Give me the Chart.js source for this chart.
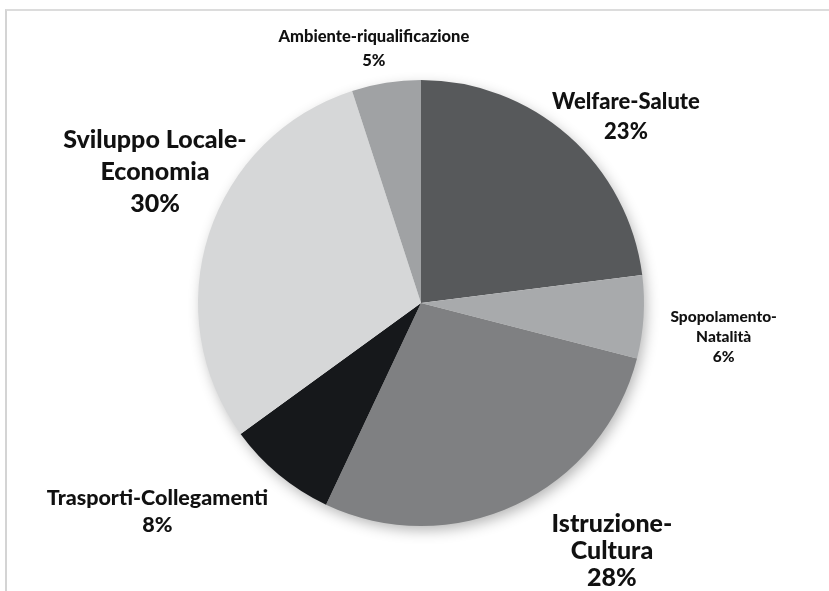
<!DOCTYPE html>
<html>
<head>
<meta charset="utf-8">
<script src="https://cdn.jsdelivr.net/npm/chart.js@4/dist/chart.umd.min.js"></script>
<style>
  html, body { margin: 0; padding: 0; background: #fff; }
  #wrap { position: relative; width: 829px; height: 591px; overflow: hidden; }
  #frame { position: absolute; left: 5px; top: 9px; right: -4px; bottom: -4px;
           border-left: 2px solid #d4d4d4; border-top: 2px solid #dcdcdc; }
  canvas { position: absolute; left: 0; top: 0; }
</style>
</head>
<body>
<div id="wrap">
  <div id="frame"></div>
  <canvas id="c" width="829" height="591"></canvas>
</div>
<script>
// Ambiti di intervento, quota percentuale
const categories = [
  'Welfare-Salute',
  'Spopolamento-Natalità',
  'Istruzione-Cultura',
  'Trasporti-Collegamenti',
  'Sviluppo Locale-Economia',
  'Ambiente-riqualificazione'
];
const shares = [23, 6, 28, 8, 30, 5];
const sliceColors = ['#57595b', '#a8aaac', '#7f8082', '#16181b', '#d6d7d8', '#a0a2a4'];

// How each label is broken into lines, and its type size / placement
const labelLines = [
  ['Welfare-Salute'],
  ['Spopolamento-', 'Natalità'],
  ['Istruzione-', 'Cultura'],
  ['Trasporti-Collegamenti'],
  ['Sviluppo Locale-', 'Economia'],
  ['Ambiente-riqualificazione']
];
const labelStyle = [
  { size: 22,   lh: 30, k: 1.20, dx: 28,    dy: 15 },
  { size: 15.5, lh: 20, k: 1.36, dx: 0,     dy: 15 },
  { size: 25,   lh: 27, k: 1.20, dx: 77,    dy: 6 },
  { size: 21.5, lh: 27, k: 1.20, dx: -93,   dy: 2 },
  { size: 25,   lh: 32, k: 1.20, dx: -11.5, dy: -48 },
  { size: 16.5, lh: 24, k: 1.15, dx: -7,    dy: -1 }
];

// Soft drop shadow under the pie
const pieShadow = {
  id: 'pieShadow',
  beforeDatasetsDraw(chart) {
    const arc = chart.getDatasetMeta(0).data[0];
    if (!arc) return;
    const ctx = chart.ctx;
    ctx.save();
    ctx.shadowColor = 'rgba(0,0,0,0.3)';
    ctx.shadowBlur = 14;
    ctx.shadowOffsetX = 3;
    ctx.shadowOffsetY = 5;
    ctx.fillStyle = '#ffffff';
    ctx.beginPath();
    ctx.arc(arc.x, arc.y, arc.outerRadius - 1, 0, Math.PI * 2);
    ctx.fill();
    ctx.restore();
  }
};

// Category name + percentage next to each slice
const sliceLabels = {
  id: 'sliceLabels',
  afterDatasetsDraw(chart) {
    const ctx = chart.ctx;
    const total = shares.reduce((a, b) => a + b, 0);
    chart.getDatasetMeta(0).data.forEach((arc, i) => {
      const st = labelStyle[i];
      const mid = (arc.startAngle + arc.endAngle) / 2;
      const d = arc.outerRadius * st.k;
      const cx = arc.x + Math.cos(mid) * d + st.dx;
      const cy = arc.y + Math.sin(mid) * d + st.dy;
      const lines = labelLines[i].concat([Math.round(shares[i] / total * 100) + '%']);
      ctx.save();
      ctx.font = '900 ' + st.size + 'px Lato, "Liberation Sans", sans-serif';
      ctx.fillStyle = '#111111';
      ctx.textAlign = 'center';
      ctx.textBaseline = 'middle';
      const top = cy - (lines.length - 1) * st.lh / 2;
      lines.forEach((t, j) => ctx.fillText(t, cx, top + j * st.lh));
      ctx.restore();
    });
  }
};

new Chart(document.getElementById('c'), {
  type: 'pie',
  data: {
    labels: categories,
    datasets: [{
      data: shares,
      backgroundColor: sliceColors,
      borderWidth: 0
    }]
  },
  options: {
    responsive: false,
    animation: false,
    layout: { padding: { top: 80, bottom: 65, left: 198, right: 185 } },
    plugins: {
      legend: { display: false },
      tooltip: { enabled: false }
    }
  },
  plugins: [pieShadow, sliceLabels]
});
</script>
</body>
</html>
